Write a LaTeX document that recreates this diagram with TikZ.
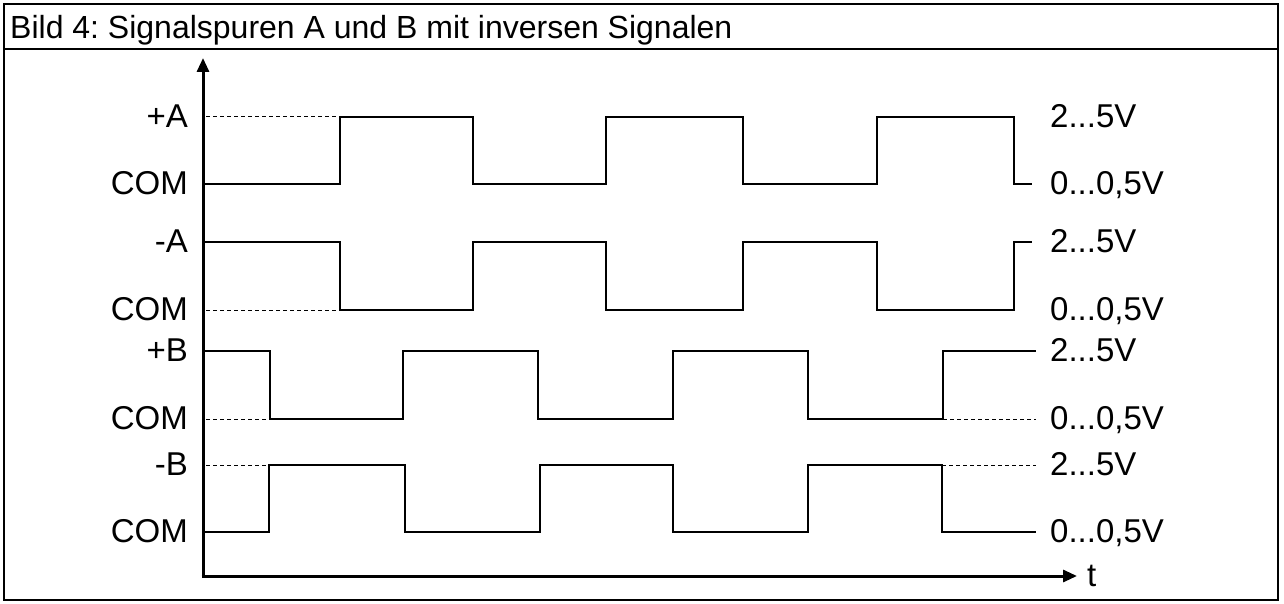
\documentclass[tikz,border=0pt]{standalone}
\usepackage{fontspec}
\setmainfont{Liberation Sans}
\usepackage{tikz}
\usetikzlibrary{positioning,arrows.meta}
\frenchspacing
\tikzset{
lbl/.style={
inner sep=0pt,
font=\fontsize{33}{38}\selectfont
},
titlelbl/.style={
inner sep=0pt,
font=\fontsize{32}{36}\selectfont
},
sig/.style={
line width=1.5pt
},
level/.style={
line width=1pt,
dash pattern=on 4pt off 3pt
},
axis/.style={
-{Triangle[length=14pt,width=12pt]},
line width=3pt
}
}
\newcommand{\highv}{2...5V}
\newcommand{\lowv}{0...0,5V}

\begin{document}
\begin{tikzpicture}[x=1pt,y=-1pt]
\useasboundingbox (0,0) rectangle (1284,604);
% frame and title
\draw[line width=2pt] (4,4) rectangle (1278,600);
\draw[line width=2pt] (4,49) -- (1278,49);
\node[titlelbl,anchor=base west](title) at (10,39){Bild 4: Signalspuren A und B mit inversen Signalen};

% axes
\coordinate (o) at (203,576);
\coordinate (ytop) at (203,58);
\coordinate (xend) at (1077,576);
\draw[axis] (o) -- (ytop);
\draw[axis] ([xshift=-1.5pt]o) -- (xend);
\node[lbl,anchor=base west](t) at (1087,586){t};

% left labels
\foreach \txt/\yy/\nm in {+A/117/pa,COM/184/ca,-A/242/ma,COM/310/cma,+B/351/pb,COM/419/cb,-B/465/mb,COM/532/cmb}
\node[lbl,anchor=base east](\nm) at (188,\yy+10.5){\txt};

% right labels
\foreach \yy/\nm in {117/h1,242/h2,351/h3,465/h4}
\node[lbl,anchor=base west](\nm) at (1050,\yy+10.5){\highv};
\foreach \yy/\nm in {184/l1,310/l2,419/l3,532/l4}
\node[lbl,anchor=base west](\nm) at (1050,\yy+10.5){\lowv};

% signal A
\draw[sig] (204,184) -- (340,184) -- (340,117) -- (473,117) -- (473,184) -- (606,184) -- (606,117) -- (743,117) -- (743,184) -- (877,184) -- (877,117) -- (1014,117) -- (1014,184) -- (1032,184);
\draw[sig] (204,242) -- (340,242) -- (340,310) -- (473,310) -- (473,242) -- (606,242) -- (606,310) -- (743,310) -- (743,242) -- (877,242) -- (877,310) -- (1014,310) -- (1014,242) -- (1032,242);
% signal B
\draw[sig] (204,351) -- (270,351) -- (270,419) -- (403,419) -- (403,351) -- (538,351) -- (538,419) -- (673,419) -- (673,351) -- (808,351) -- (808,419) -- (943,419) -- (943,351) -- (1036,351);
\draw[sig] (204,532) -- (269,532) -- (269,465) -- (405,465) -- (405,532) -- (540,532) -- (540,465) -- (673,465) -- (673,532) -- (808,532) -- (808,465) -- (942,465) -- (942,532) -- (1036,532);

% dashed levels
\draw[level] (206,117) -- (340,117);
\draw[level] (206,310) -- (340,310);
\draw[level] (206,419) -- (270,419);
\draw[level] (206,465) -- (269,465);
\draw[level] (943,419) -- (1036,419);
\draw[level] (942,465) -- (1036,465);
\end{tikzpicture}
\end{document}
